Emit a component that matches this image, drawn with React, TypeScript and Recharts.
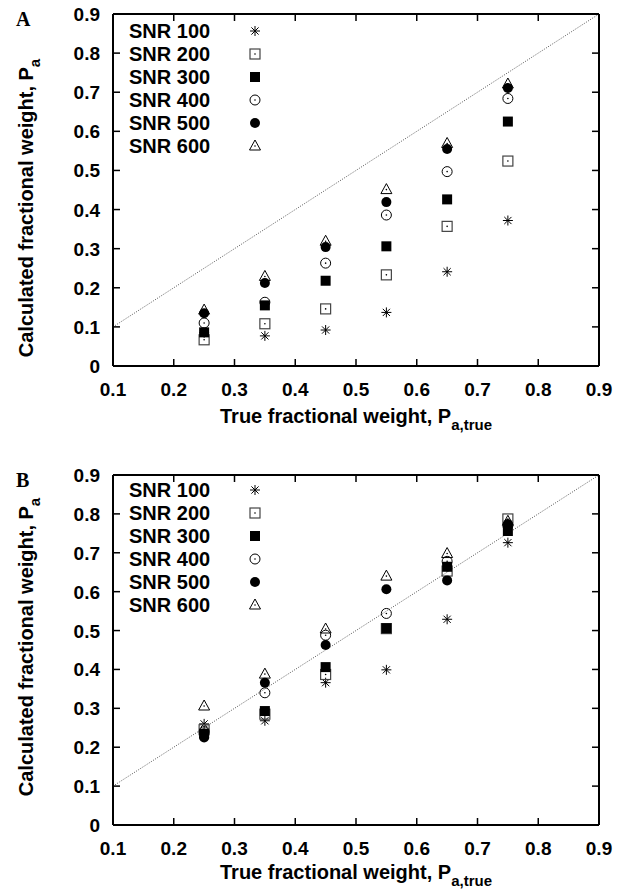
import React from 'react'
import { ScatterChart, Scatter, XAxis, YAxis, ReferenceLine, Legend } from 'recharts'

// true fractional weights (x) shared by every series
const trueWeights = [0.25, 0.35, 0.45, 0.55, 0.65, 0.75]
const snrNames = ['SNR 100', 'SNR 200', 'SNR 300', 'SNR 400', 'SNR 500', 'SNR 600']
const xTicks = [0.1, 0.2, 0.3, 0.4, 0.5, 0.6, 0.7, 0.8, 0.9]
const yTicks = [0, 0.1, 0.2, 0.3, 0.4, 0.5, 0.6, 0.7, 0.8, 0.9]
const identityLine = [0.1, 0.9]

// panel A: calculated fractional weight
const snr100A = [0.085, 0.077, 0.092, 0.137, 0.241, 0.372]
const snr200A = [0.067, 0.108, 0.146, 0.233, 0.357, 0.524]
const snr300A = [0.086, 0.155, 0.218, 0.306, 0.426, 0.625]
const snr400A = [0.11, 0.163, 0.263, 0.386, 0.497, 0.684]
const snr500A = [0.135, 0.212, 0.304, 0.419, 0.555, 0.711]
const snr600A = [0.143, 0.229, 0.319, 0.451, 0.569, 0.721]

// panel B
const snr100B = [0.26, 0.268, 0.366, 0.399, 0.529, 0.726]
const snr200B = [0.245, 0.285, 0.387, 0.505, 0.653, 0.787]
const snr300B = [0.235, 0.293, 0.406, 0.506, 0.664, 0.756]
const snr400B = [0.24, 0.34, 0.488, 0.544, 0.678, 0.77]
const snr500B = [0.225, 0.366, 0.463, 0.606, 0.629, 0.774]
const snr600B = [0.306, 0.388, 0.504, 0.64, 0.698, 0.781]

const X_MIN = 0.1
const X_MAX = 0.9
const Y_MIN = 0
const Y_MAX = 0.9

const FONT = '"Liberation Sans", Arial, Helvetica, sans-serif'
const markerKinds = ['star', 'openSquare', 'fillSquare', 'openCircle', 'fillCircle', 'triangle']
const PLOT_W = 486

const toRows = (vals: number[]) => trueWeights.map((x, i) => ({ x, y: vals[i] }))

const Marker = ({ kind, cx, cy }: { kind: string; cx: number; cy: number }) => {
  const s = 5
  const dot = <circle cx={cx} cy={cy} r={0.8} fill="#000" />
  if (kind === 'star') {
    const d = 3.6
    return (
      <g stroke="#000" strokeWidth={1}>
        <line x1={cx} y1={cy - s} x2={cx} y2={cy + s} />
        <line x1={cx - s} y1={cy} x2={cx + s} y2={cy} />
        <line x1={cx - d} y1={cy - d} x2={cx + d} y2={cy + d} />
        <line x1={cx - d} y1={cy + d} x2={cx + d} y2={cy - d} />
      </g>
    )
  }
  if (kind === 'openSquare')
    return (
      <g>
        <rect x={cx - s} y={cy - s} width={2 * s} height={2 * s} fill="none" stroke="#444" strokeWidth={1.2} />
        {dot}
      </g>
    )
  if (kind === 'fillSquare') return <rect x={cx - s} y={cy - s} width={2 * s} height={2 * s} fill="#000" />
  if (kind === 'openCircle')
    return (
      <g>
        <circle cx={cx} cy={cy} r={s} fill="none" stroke="#000" strokeWidth={1} />
        {dot}
      </g>
    )
  if (kind === 'fillCircle') return <circle cx={cx} cy={cy} r={s} fill="#000" />
  return (
    <g>
      <polygon
        points={`${cx},${cy - 6} ${cx + 5.5},${cy + 4} ${cx - 5.5},${cy + 4}`}
        fill="none"
        stroke="#000"
        strokeWidth={1}
      />
      {dot}
    </g>
  )
}

const fmt = (v: number) => (v === 0 ? '0' : v.toFixed(1))

// ticks drawn as small filled bars: inward on the axis and mirrored on the opposite border
const BottomTick = (props: any) => {
  const { x, y, payload, span } = props
  return (
    <g>
      <rect x={x - 0.75} y={y - 7} width={1.5} height={7} fill="#000" />
      <rect x={x - 0.75} y={y - span} width={1.5} height={7} fill="#000" />
      <text x={x} y={y + 30} textAnchor="middle" fontSize={19} fontWeight="bold" fontFamily={FONT} fill="#000">
        {fmt(payload.value)}
      </text>
    </g>
  )
}
const LeftTick = (props: any) => {
  const { x, y, payload, span } = props
  return (
    <g>
      <rect x={x} y={y - 0.75} width={7} height={1.5} fill="#000" />
      <rect x={x + span - 7} y={y - 0.75} width={7} height={1.5} fill="#000" />
      <text x={x - 13} y={y + 7} textAnchor="end" fontSize={19} fontWeight="bold" fontFamily={FONT} fill="#000">
        {fmt(payload.value)}
      </text>
    </g>
  )
}

const LegendBox = (props: any) => {
  const { payload } = props
  return (
    <div style={{ fontFamily: FONT, fontWeight: 'bold', fontSize: 20, color: '#000' }}>
      {(payload || []).map((entry: any, i: number) => (
        <div key={i} style={{ position: 'relative', height: 23, lineHeight: '23px', width: 140, whiteSpace: 'nowrap' }}>
          <span>{entry.value}</span>
          <svg width={14} height={14} style={{ position: 'absolute', left: 119, top: 4 }}>
            <Marker kind={markerKinds[snrNames.indexOf(entry.value)]} cx={7} cy={7} />
          </svg>
        </div>
      ))}
    </div>
  )
}

const XTitle = (p: any) => {
  const vb = p.viewBox
  return (
    <text x={vb.x + vb.width / 2} y={vb.y + p.drop} textAnchor="middle" fontFamily={FONT} fontWeight="bold" fontSize={20} fill="#000">
      True fractional weight, P
      <tspan fontSize={15} dy={7}>a,true</tspan>
    </text>
  )
}
const YTitle = (p: any) => {
  const cx = 33
  const cy = p.center
  return (
    <text x={cx} y={cy} transform={`rotate(-90, ${cx}, ${cy})`} textAnchor="middle" fontFamily={FONT} fontWeight="bold" fontSize={20} fill="#000">
      Calculated fractional weight, P
      <tspan fontSize={15} dy={7}>a</tspan>
    </text>
  )
}

// plot frame through the chart's own scales
const frameLines = (key: string) => {
  const corners = [
    [X_MIN, Y_MIN, X_MAX, Y_MIN],
    [X_MIN, Y_MAX, X_MAX, Y_MAX],
    [X_MIN, Y_MIN, X_MIN, Y_MAX],
    [X_MAX, Y_MIN, X_MAX, Y_MAX],
  ]
  return corners.map((c, i) => (
    <ReferenceLine
      key={key + i}
      segment={[
        { x: c[0], y: c[1] },
        { x: c[2], y: c[3] },
      ]}
      stroke="#000"
      strokeWidth={2}
    />
  ))
}

type PanelProps = {
  letter: string
  series: number[][]
  height: number
  marginTop: number
  marginBottom: number
  legendTop: number
  yTitleCenter: number
  xTitleDrop: number
}

const Panel = ({ letter, series, height, marginTop, marginBottom, legendTop, yTitleCenter, xTitleDrop }: PanelProps) => {
  const plotH = height - marginTop - marginBottom - 60
  return (
    <div style={{ position: 'relative', width: 631, height }}>
      <div style={{ position: 'absolute', left: 16, top: marginTop - 6, fontFamily: '"Liberation Serif", "Times New Roman", serif', fontWeight: 'bold', fontSize: 20, zIndex: 2 }}>
        {letter}
      </div>
      <ScatterChart width={631} height={height} margin={{ top: marginTop, right: 32, bottom: marginBottom, left: 53 }}>
        <XAxis
          type="number"
          dataKey="x"
          domain={[X_MIN, X_MAX]}
          ticks={xTicks}
          height={60}
          tickSize={0}
          tickMargin={0}
          tick={<BottomTick span={plotH} />}
          stroke="#000"
          strokeWidth={2}
          label={<XTitle drop={xTitleDrop} />}
        />
        <YAxis
          type="number"
          dataKey="y"
          domain={[Y_MIN, Y_MAX]}
          ticks={yTicks}
          width={60}
          tickSize={0}
          tickMargin={0}
          tick={<LeftTick span={PLOT_W} />}
          stroke="#000"
          strokeWidth={2}
          label={<YTitle center={yTitleCenter} />}
        />
        {frameLines(letter)}
        <ReferenceLine
          segment={[
            { x: identityLine[0], y: identityLine[0] },
            { x: identityLine[1], y: identityLine[1] },
          ]}
          stroke="#555"
          strokeWidth={1}
          strokeDasharray="1 1.5"
        />
        {series.map((vals, i) => (
          <Scatter
            key={snrNames[i]}
            name={snrNames[i]}
            data={toRows(vals)}
            isAnimationActive={false}
            fill="#000"
            shape={(p: any) => <Marker kind={markerKinds[i]} cx={p.cx} cy={p.cy} />}
          />
        ))}
        <Legend layout="vertical" align="center" verticalAlign="middle" content={<LegendBox />} wrapperStyle={{ left: 129, top: legendTop, width: 150 }} />
      </ScatterChart>
    </div>
  )
}

export default function App() {
  return (
    <div style={{ position: 'absolute', left: 0, top: 0, width: 631, height: 891, background: '#fff' }}>
      <Panel
        letter="A"
        series={[snr100A, snr200A, snr300A, snr400A, snr500A, snr600A]}
        height={445}
        marginTop={14}
        marginBottom={19}
        legendTop={20}
        yTitleCenter={208}
        xTitleDrop={57}
      />
      <Panel
        letter="B"
        series={[snr100B, snr200B, snr300B, snr400B, snr500B, snr600B]}
        height={446}
        marginTop={30}
        marginBottom={6}
        legendTop={34}
        yTitleCenter={202}
        xTitleDrop={54}
      />
    </div>
  )
}
